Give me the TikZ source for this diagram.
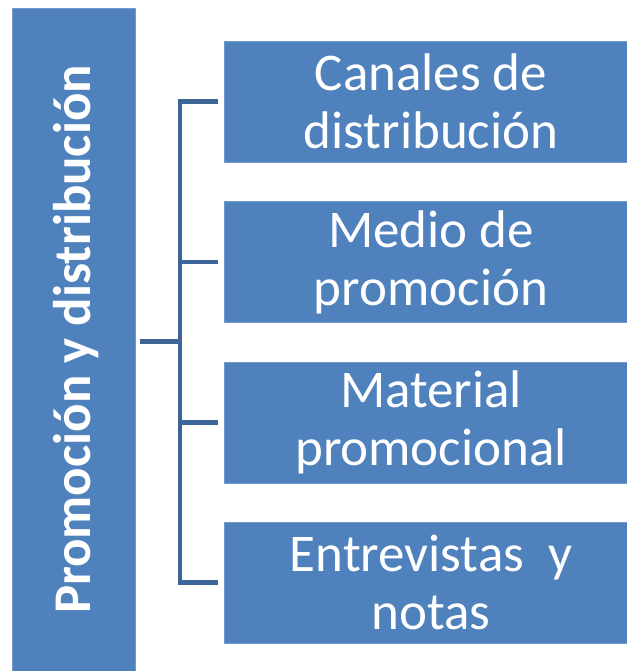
\documentclass[tikz,border=0pt]{standalone}
\usepackage{fontspec}
\setmainfont{Carlito}
\usetikzlibrary{positioning}

\definecolor{boxblue}{HTML}{4F81BD}
\definecolor{linkblue}{HTML}{3C6496}

\begin{document}
\begin{tikzpicture}[
  item/.style = {fill=boxblue, draw=boxblue!80!white, minimum height=121pt, minimum width=414pt,
                 text=white, align=center, font=\fontsize{53}{58}\selectfont, inner sep=0pt},
  title/.style = {fill=boxblue, draw=boxblue!80!white, minimum height=123pt, minimum width=663pt,
                  text=white, font=\bfseries\fontsize{53}{58}\selectfont, rotate=90, inner sep=0pt},
  bracket/.style = {draw=linkblue, line width=4.5pt},
  node distance=39pt
]
  \useasboundingbox (0,0) rectangle (626pt,-671pt);

  % Title (vertical)
  \node[title] (titulo) at (73.5pt,-339.5pt) {\raisebox{-3pt}[\height][\depth]{Promoción y distribución}};

  % Items
  \node[item] (canales) at (431pt,-101.5pt) {Canales de\\distribución};
  \node[item, below=of canales] (medio) {Medio de\\promoción};
  \node[item, below=of medio] (material) {Material\\promocional};
  \node[item, below=of material] (entrevistas) {Entrevistas~ y\\notas};

  % Bracket
  \draw[bracket] ([xshift=-6pt]canales.west) -- ++(-38pt,0) coordinate (spinetop)
    |- ([xshift=-6pt]entrevistas.west);
  \draw[bracket] ([xshift=-6pt]medio.west) -- (medio.west -| spinetop);
  \draw[bracket] ([xshift=-6pt]material.west) -- (material.west -| spinetop);
  \draw[bracket] ([xshift=5pt,yshift=-2pt]titulo.south) -- ([yshift=-2pt]titulo.south -| spinetop);

\end{tikzpicture}
\end{document}
